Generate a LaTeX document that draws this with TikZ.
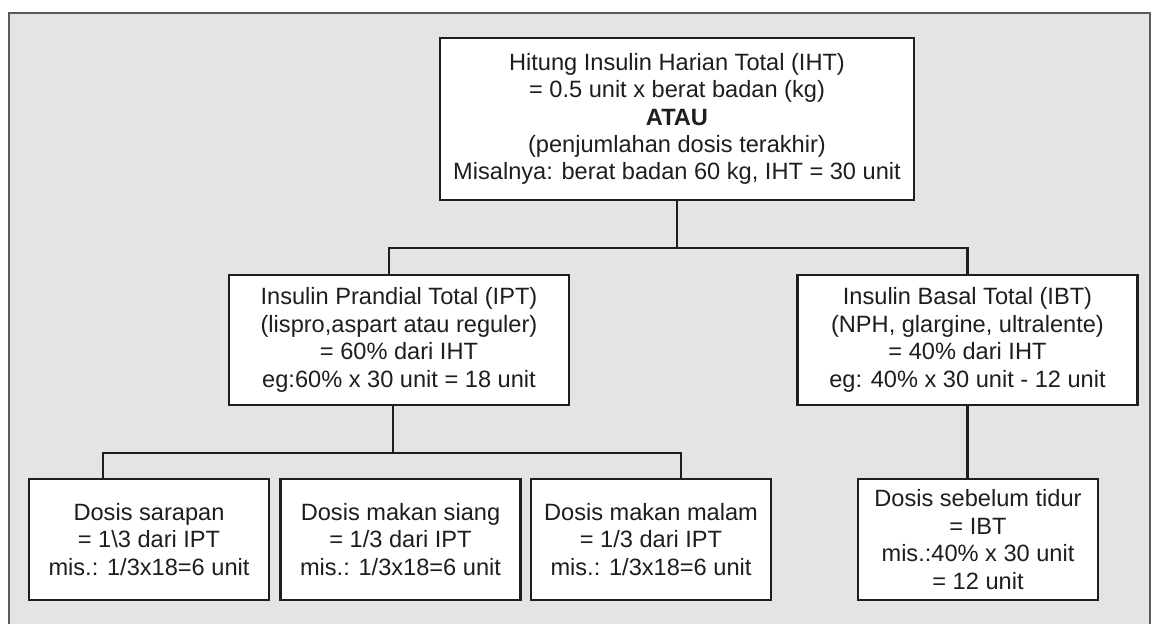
\documentclass[tikz,border=0pt]{standalone}
\usepackage{fontspec}
\setmainfont{Liberation Sans}
\usetikzlibrary{positioning,calc}
\definecolor{panelgray}{RGB}{228,228,228}
\definecolor{framegray}{RGB}{90,90,90}
\definecolor{inkgray}{RGB}{30,30,30}
\tikzset{
  box/.style={rectangle,draw=inkgray,line width=1.3pt,fill=white,text=inkgray,
              align=center,font=\fontsize{11.8}{13.7}\selectfont,inner sep=0pt},
  topbox/.style={box,minimum width=237pt,minimum height=81pt},
  midbox/.style={box,minimum width=170pt,minimum height=65pt},
  dosebox/.style={box,minimum width=120pt,minimum height=60.5pt},
  ln/.style={draw=inkgray,line width=1.1pt},
}
\begin{document}
\begin{tikzpicture}[x=0.5pt,y=-0.5pt]
  \useasboundingbox (0,0) rectangle (1153,624);
  % -- panel behind the chart --
  \fill[panelgray] (9,13) rectangle (1150,624);
  \draw[framegray,line width=1.1pt] (9,624) -- (9,13) -- (1150,13) -- (1150,624);
  % -- top level --
  \node[topbox] (iht) at (677,119)
    {Hitung Insulin Harian Total (IHT)\\= 0.5 unit x berat badan (kg)\\\textbf{ATAU}\\
     (penjumlahan dosis terakhir)\\Misalnya: berat badan 60 kg, IHT = 30 unit};
  % -- prandial / basal split --
  \node[midbox] (ipt) at (399,340)
    {Insulin Prandial Total (IPT)\\(lispro,aspart atau reguler)\\= 60\% dari IHT\\
     eg:60\% x 30 unit = 18 unit};
  \node[midbox] (ibt) at (967.5,340)
    {Insulin Basal Total (IBT)\\(NPH, glargine, ultralente)\\= 40\% dari IHT\\
     eg: 40\% x 30 unit - 12 unit};
  % -- per-meal and bedtime doses --
  \node[dosebox] (sarapan) at (149,539.5)
    {Dosis sarapan\\= 1\textbackslash3 dari IPT\\mis.: 1/3x18=6 unit};
  \node[dosebox] (siang) at (400.5,539.5)
    {Dosis makan siang\\= 1/3 dari IPT\\mis.: 1/3x18=6 unit};
  \node[dosebox] (malam) at (651,539.5)
    {Dosis makan malam\\= 1/3 dari IPT\\mis.: 1/3x18=6 unit};
  \node[dosebox] (tidur) at (978,539.5)
    {Dosis sebelum tidur\\= IBT\\mis.:40\% x 30 unit\\= 12 unit};
  % -- connectors (elbows through junction points) --
  \coordinate (j1) at (iht.south |- 0,248);
  \draw[ln] (iht.south) -- (j1);
  \draw[ln] (j1) -| ([xshift=-5pt]ipt.north);
  \draw[ln] (j1) -| (ibt.north);
  \coordinate (j2) at ([xshift=-3pt]ipt.south |- 0,453);
  \draw[ln] ([xshift=-3pt]ipt.south) -- (j2);
  \draw[ln] (j2) -| ([xshift=-23pt]sarapan.north);
  \draw[ln] (j2) -| ([xshift=15pt]malam.north);
  \draw[ln] (ibt.south) -- (ibt.south |- tidur.north);
\end{tikzpicture}
\end{document}
